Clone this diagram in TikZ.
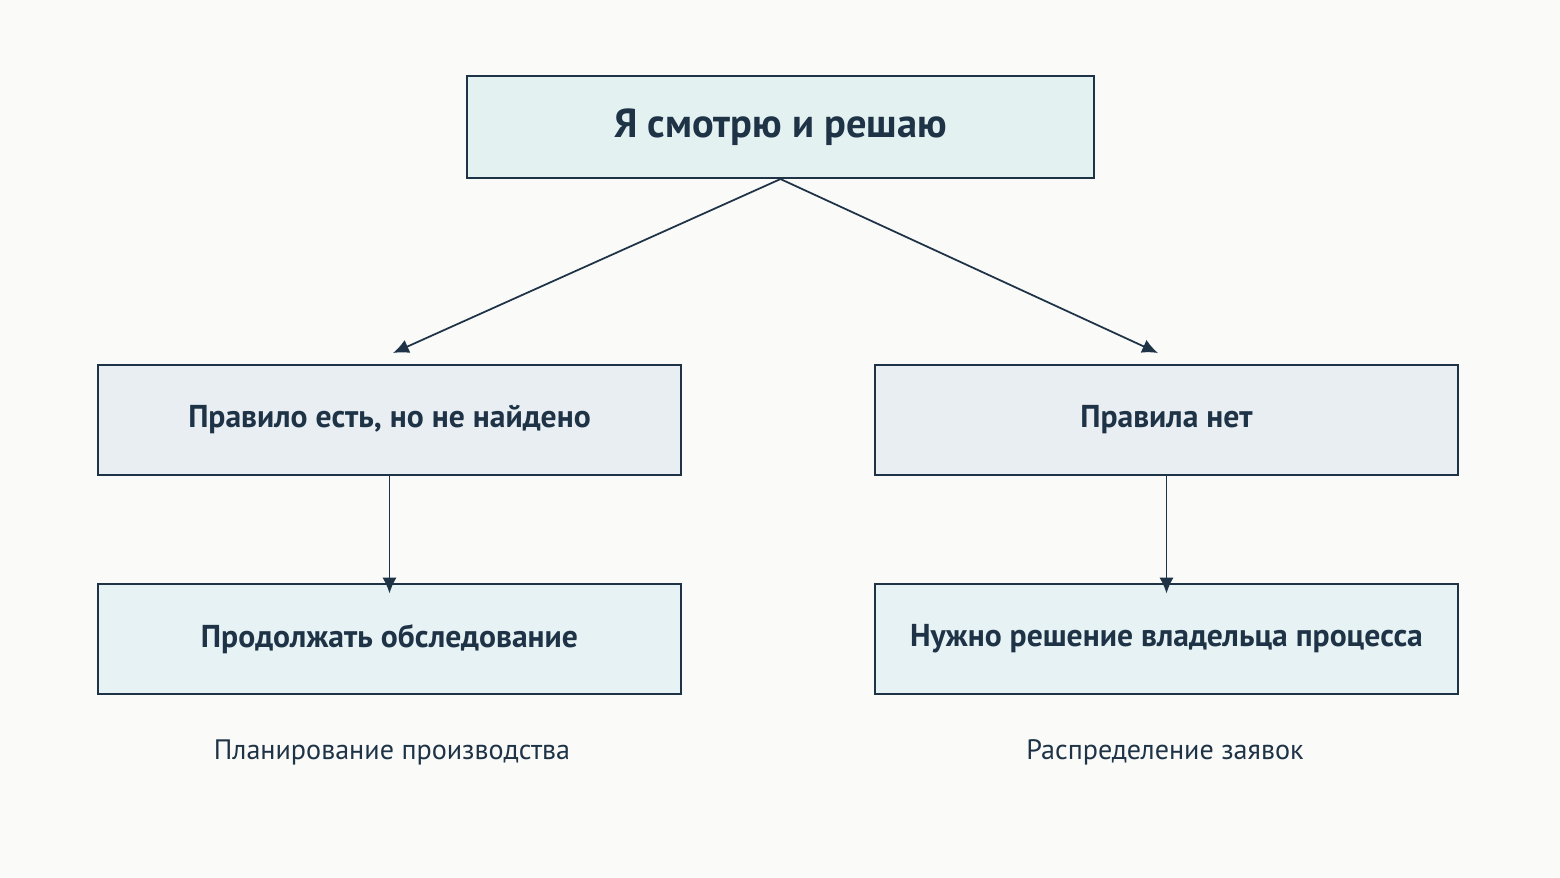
\documentclass[tikz,border=0pt]{standalone}
\usepackage{fontspec}
\setmainfont{PT Sans}
\usetikzlibrary{arrows.meta}
\definecolor{ink}{HTML}{1F3347}
\definecolor{topfill}{HTML}{E3F1F1}
\definecolor{midfill}{HTML}{E9EEF3}
\definecolor{lowfill}{HTML}{E6F2F4}
\definecolor{bg}{HTML}{FAFAF9}
\tikzset{
  box/.style={draw=ink,line width=1.2pt,text=ink,font=\bfseries\fontsize{18}{20}\selectfont,
    minimum width=11.66cm,minimum height=2.2cm,inner sep=0pt},
  link/.style={-{Latex[length=9pt,width=8pt]},draw=ink,line width=1pt},
  caption/.style={text=ink,font=\fontsize{16}{18}\selectfont}
}
\begin{document}
\begin{tikzpicture}[x=0.02cm,y=-0.02cm]

\fill[bg] (0,0) rectangle (1560,877);
\useasboundingbox (0,0) rectangle (1560,877);

\node[box,fill=topfill,minimum width=12.54cm,minimum height=2.04cm,font=\bfseries\fontsize{23}{26}\selectfont] (top) at (780.5,127) {Я смотрю и решаю};

\node[box,fill=midfill] (found) at (389.5,420) {Правило есть, но не найдено};
\node[box,fill=midfill] (none) at (1166.5,420) {Правила нет};

\node[box,fill=lowfill] (go) at (389.5,639) {Продолжать обследование};
\node[box,fill=lowfill] (owner) at (1166.5,639) {Нужно решение владельца процесса};

\node[caption] (capl) at (392,752) {Планирование производства};
\node[caption] (capr) at (1165,752) {Распределение заявок};

\coordinate (tl) at (393,353);
\coordinate (tr) at (1158,353);
\draw[link] (top.south) -- (tl);
\draw[link] (top.south) -- (tr);
\draw[link] (found.south) -- ([yshift=-6pt]go.north);
\draw[link] (none.south) -- ([yshift=-6pt]owner.north);

\end{tikzpicture}
\end{document}
